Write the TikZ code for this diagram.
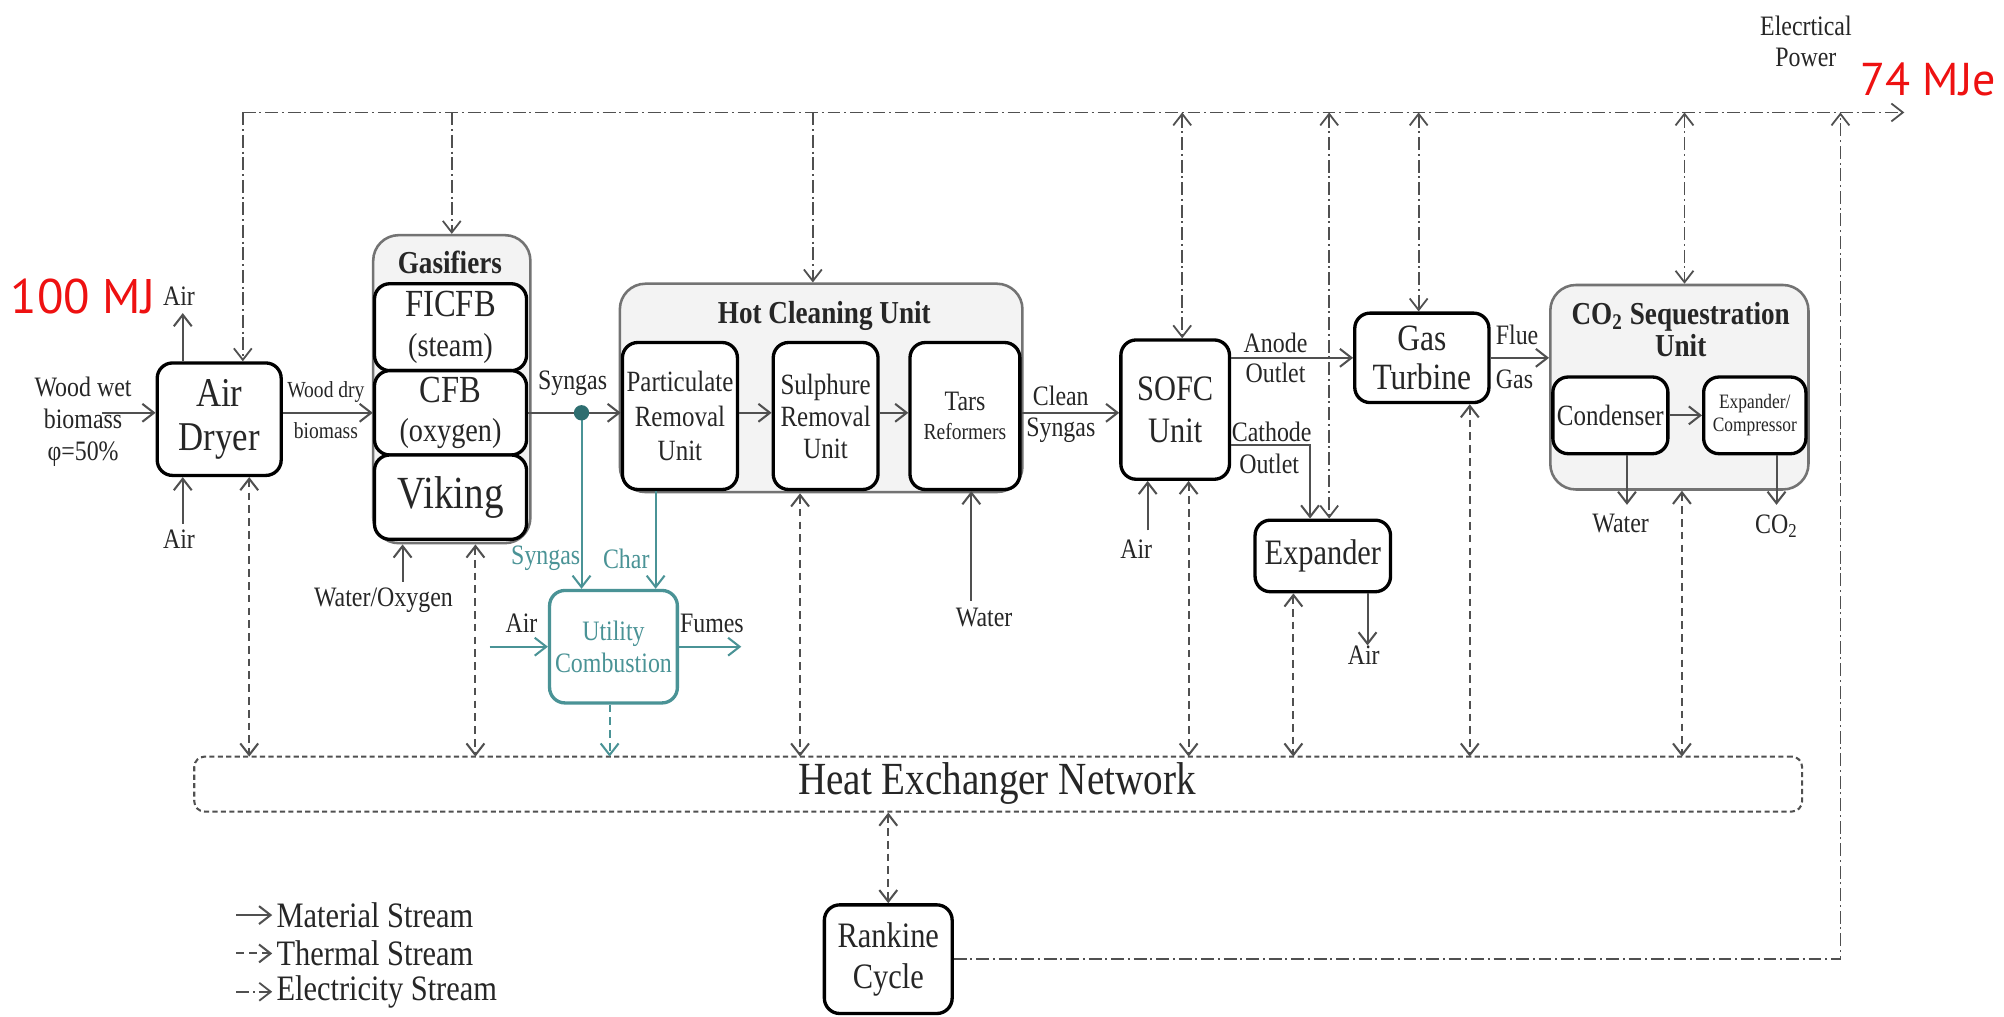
\documentclass[tikz,border=0pt]{standalone}
\usepackage{fontspec}
\setmainfont{Liberation Serif}[FakeStretch=0.85]
\newfontfamily\redfont{PT Sans}
\usetikzlibrary{arrows.meta,calc}
\definecolor{tealc}{HTML}{4A9396}
\definecolor{tealdk}{HTML}{2E6E70}
\definecolor{lin}{HTML}{505050}
\definecolor{txt}{HTML}{262626}
\definecolor{grpfill}{HTML}{F3F3F3}
\definecolor{redtxt}{HTML}{EE1111}
\newcommand{\fsz}[2]{\fontsize{#1}{#2}\selectfont}
\newcommand{\bx}[7]{%
  \pgfmathsetmacro{\myBW}{(#4-#2)/2}\pgfmathsetmacro{\myBH}{(#5-#3)/2}%
  \node[#6, minimum width=\myBW pt, minimum height=\myBH pt] (#1) at ({(#2+#4)/2},{(#3+#5)/2}) {#7};}
\begin{document}
\begin{tikzpicture}[x=0.5pt,y=-0.5pt,
  onetip/.style={-{Straight Barb[length=4.5pt,width=7pt]}},
  twotips/.style={{Straight Barb[length=4.5pt,width=7pt]}-{Straight Barb[length=4.5pt,width=7pt]}},
  matl/.style={draw=lin,line width=0.8pt},
  tline/.style={draw=tealc,line width=0.8pt},
  therm/.style={draw=lin,line width=0.8pt,dash pattern=on 3pt off 2pt},
  elec/.style={draw=lin,line width=0.7pt,dash pattern=on 5pt off 1.5pt on 0.8pt off 1.5pt},
  ubox/.style={draw=black,line width=1.3pt,rounded corners=6pt,fill=white,align=center,text=txt,inner sep=0pt},
  grp/.style={draw=black!55,line width=1pt,rounded corners=10pt,fill=grpfill,inner sep=0pt},
  lbl/.style={text=txt,font=\fsz{11}{12.5},inner sep=0pt,align=center},
  tlbl/.style={text=tealc,font=\fsz{11}{12.5},inner sep=0pt,align=center},
  ttl/.style={text=txt,font=\bfseries\fsz{12.5}{12.5},inner sep=0pt,align=center},
]
\fill[white] (0,0) rectangle (1568,795);
\useasboundingbox (0,0) rectangle (1568,795);

% ---------- groups ----------
\bx{gasgrp}{292}{184}{415}{425}{grp}{}
\node[ttl] (tgas) at (352,205) {Gasifiers};
\bx{hcu}{485}{222}{800}{385}{grp}{}
\node[ttl] (thcu) at (645,247) {Hot Cleaning Unit};
\bx{co2grp}{1213}{223}{1415}{383}{grp}{}
\node[ttl] (tco2) at (1315,258) {CO\textsubscript{2} Sequestration\\Unit};

% ---------- unit boxes ----------
\bx{dryer}{123}{284}{220}{372}{ubox,font=\fsz{16}{17}}{Air\\Dryer}
\bx{ficfb}{293}{222}{412}{290}{ubox,font=\fsz{15}{15.5}}{FICFB\\{\fsz{13}{15.5}(steam)}}
\bx{cfb}{293}{290}{412}{356}{ubox,font=\fsz{15}{15.5}}{CFB\\{\fsz{13}{15.5}(oxygen)}}
\bx{viking}{293}{356}{412}{422}{ubox,font=\fsz{18}{18}}{Viking}
\bx{part}{487}{268}{577}{383}{ubox,font=\fsz{11.5}{13.5}}{Particulate\\Removal\\Unit}
\bx{sulph}{605}{268}{687}{383}{ubox,font=\fsz{11.5}{12.5}}{Sulphure\\Removal\\Unit}
\bx{tars}{712}{268}{798}{383}{ubox,font=\fsz{11}{11.5}}{Tars\\{\fsz{9}{11}Reformers}}
\bx{sofc}{877}{266}{962}{375}{ubox,font=\fsz{14}{16.5}}{SOFC\\Unit}
\bx{gt}{1060}{245}{1165}{315}{ubox,font=\fsz{14.5}{15}}{Gas\\Turbine}
\bx{exp}{982}{407}{1088}{463}{ubox,font=\fsz{14}{15}}{Expander}
\bx{cond}{1215}{295}{1305}{355}{ubox,font=\fsz{11.5}{12}}{Condenser}
\bx{expcomp}{1333}{295}{1413}{355}{ubox,font=\fsz{8}{9}}{Expander/\\Compressor}
\bx{util}{430}{462}{530}{550}{ubox,draw=tealc,text=tealc,font=\fsz{11}{12.5}}{Utility\\Combustion}
\bx{hen}{152}{592}{1410}{635}{draw=lin,line width=0.8pt,dash pattern=on 2pt off 1.3pt,rounded corners=4pt,inner sep=0pt,text=txt}{}
\node[text=txt,font=\fsz{18}{18},inner sep=0pt] (then) at (780,613) {Heat Exchanger Network};
\bx{rankine}{645}{708}{745}{793}{ubox,font=\fsz{14}{16}}{Rankine\\Cycle}

% ---------- material streams ----------
\coordinate (wwin) at (80,323);
\draw[matl,onetip] (wwin) -- (wwin -| dryer.west);
\coordinate (airtop) at (143,245);
\draw[matl,onetip] (airtop |- dryer.north) -- (airtop);
\coordinate (airbot) at (143,410);
\draw[matl,onetip] (airbot) -- (airbot |- dryer.south);
\draw[matl,onetip] (dryer.east |- cfb.west) -- (cfb.west);
\draw[matl,onetip] (cfb.east) -- (part.west |- cfb.east);
\draw[matl,onetip] (part.east |- cfb.east) -- (sulph.west |- cfb.east);
\draw[matl,onetip] (sulph.east |- cfb.east) -- (tars.west |- cfb.east);
\draw[matl,onetip] (tars.east |- cfb.east) -- (sofc.west |- cfb.east);
\coordinate (wo) at (315,455);
\draw[matl,onetip] (wo) -- (wo |- gasgrp.south);
\coordinate (tw) at (760,470);
\draw[matl,onetip] (tw) -- (tw |- tars.south);
\coordinate (sa) at (898,415);
\draw[matl,onetip] (sa) -- (sa |- sofc.south);
\draw[matl,onetip] (sofc.east |- gt.west) -- (gt.west);
\coordinate (ca) at (1025,348);
\draw[matl,onetip] (sofc.east |- ca) -- (ca) -- (ca |- exp.north);
\coordinate (xa) at (1070,505);
\draw[matl,onetip] (xa |- exp.south) -- (xa);
\draw[matl,onetip] (gt.east) -- (co2grp.west |- gt.east);
\draw[matl,onetip] (cond.east) -- (expcomp.west);
\coordinate (cw) at (1273,395);
\draw[matl,onetip] (cw |- cond.south) -- (cw);
\coordinate (cc) at (1390,395);
\draw[matl,onetip] (cc |- expcomp.south) -- (cc);

% ---------- utility (teal) ----------
\coordinate (dot) at (455,323);
\draw[tline,onetip] (dot) -- (dot |- util.north);
\fill[tealdk] (dot) circle (3pt);
\coordinate (ch) at (513,400);
\draw[tline,onetip] (part.south -| ch) -- (util.north -| ch);
\coordinate (ua) at (383,506);
\draw[tline,onetip] (ua) -- (util.west);
\coordinate (uf) at (580,506);
\draw[tline,onetip] (util.east) -- (uf);

% ---------- thermal streams ----------
\foreach \n/\xx in {h1/195,h2/372,h3/477,h4/626,h5/930,h6/1012,h7/1150,h8/1316}
  \coordinate (\n) at (\xx,592);
\draw[therm,twotips] (dryer.south -| h1) -- (h1);
\draw[therm,twotips] (gasgrp.south -| h2) -- (h2);
\draw[therm,draw=tealc,onetip] (util.south -| h3) -- (h3);
\draw[therm,twotips] (hcu.south -| h4) -- (h4);
\draw[therm,twotips] (sofc.south -| h5) -- (h5);
\draw[therm,twotips] (exp.south -| h6) -- (h6);
\draw[therm,twotips] (gt.south -| h7) -- (h7);
\draw[therm,twotips] (co2grp.south -| h8) -- (h8);
\draw[therm,twotips] (hen.south -| rankine.north) -- (rankine.north);

% ---------- electricity ----------
\coordinate (e0) at (190,88);
\coordinate (eR) at (1490,88);
\draw[elec,onetip] (e0) -- (eR);
\draw[elec,onetip] (e0) -- (e0 |- dryer.north);
\draw[elec,onetip] (e0 -| gasgrp.north) -- (gasgrp.north);
\coordinate (eH) at (636,88);
\draw[elec,onetip] (eH) -- (eH |- hcu.north);
\coordinate (eS) at (925,88);
\draw[elec,twotips] (eS) -- (eS |- sofc.north);
\coordinate (eX) at (1040,88);
\draw[elec,twotips] (eX) -- (eX |- exp.north);
\coordinate (eG) at (1110,88);
\draw[elec,twotips] (eG) -- (eG |- gt.north);
\coordinate (eC) at (1318,88);
\draw[elec,twotips] (eC) -- (eC |- co2grp.north);
\coordinate (eK) at (1440,88);
\draw[elec,onetip] (rankine.east) -| (eK);

% ---------- labels ----------
\node[text=redtxt,font=\redfont\fsz{19}{19},inner sep=0pt] (l100) at (65,232) {100 MJ};
\node[text=redtxt,font=\redfont\fsz{18}{18},inner sep=0pt,anchor=east] (l74) at (1562,62) {74 MJe};
\node[lbl] (lairt) at (140,232) {Air};
\node[lbl,font=\fsz{11}{12.5}] (lwood) at (65,330) {Wood wet\\biomass\\φ=50\%};
\node[lbl] (lairb) at (140,422) {Air};
\node[lbl,font=\fsz{9}{10}] (lwd1) at (255,307) {Wood dry};
\node[lbl,font=\fsz{9}{10}] (lwd2) at (255,337) {biomass};
\node[lbl] (lsyn) at (448,300) {Syngas};
\node[tlbl] (lsyn2) at (427,437) {Syngas};
\node[tlbl] (lchar) at (490,437) {Char};
\node[lbl] (luair) at (408,488) {Air};
\node[lbl] (lfum) at (557,488) {Fumes};
\node[lbl] (lwo) at (300,470) {Water/Oxygen};
\node[lbl] (lwat) at (770,483) {Water};
\node[lbl] (lcl1) at (830,310) {Clean};
\node[lbl] (lcl2) at (830,337) {Syngas};
\node[lbl] (lsair) at (889,430) {Air};
\node[lbl] (lan1) at (998,268) {Anode};
\node[lbl] (lan2) at (998,292) {Outlet};
\node[lbl] (lca1) at (995,338) {Cathode};
\node[lbl] (lca2) at (993,363) {Outlet};
\node[lbl] (lxair) at (1067,513) {Air};
\node[lbl] (lfl1) at (1187,262) {Flue};
\node[lbl] (lfl2) at (1185,297) {Gas};
\node[lbl] (lcw) at (1268,410) {Water};
\node[lbl] (lco2) at (1390,412) {CO\textsubscript{2}};
\node[lbl] (lel1) at (1413,20) {Elecrtical};
\node[lbl] (lel2) at (1413,45) {Power};

% ---------- legend ----------
\coordinate (g1a) at (185,716); \coordinate (g1b) at (213,716);
\coordinate (g2a) at (185,746); \coordinate (g2b) at (213,746);
\coordinate (g3a) at (185,776); \coordinate (g3b) at (213,776);
\draw[matl,onetip] (g1a) -- (g1b);
\draw[therm,onetip] (g2a) -- (g2b);
\draw[elec,onetip] (g3a) -- (g3b);
\node[lbl,font=\fsz{14}{14},anchor=west] (lg1) at (216,716) {Material Stream};
\node[lbl,font=\fsz{14}{14},anchor=west] (lg2) at (216,746) {Thermal Stream};
\node[lbl,font=\fsz{14}{14},anchor=west] (lg3) at (216,776) {Electricity Stream};
\end{tikzpicture}
\end{document}
